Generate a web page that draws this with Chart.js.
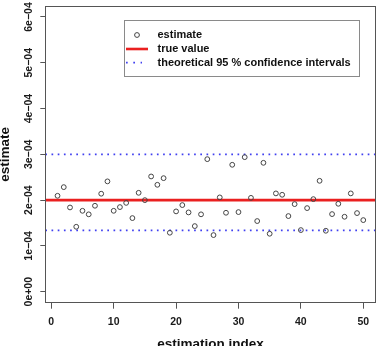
<!DOCTYPE html>
<html>
<head>
<meta charset="utf-8">
<script src="https://cdn.jsdelivr.net/npm/chart.js@4.4.0/dist/chart.umd.min.js"></script>
<style>
    body { margin: 0; background: #fff; }
    #wrap { width: 382px; height: 346px; }
</style>
</head>
<body>
<div id="wrap"><canvas id="chart"></canvas></div>
<script>
"use strict"


const indices = [ 1,  2,  3,  4,  5,  6,  7,  8,  9, 10,
                 11, 12, 13, 14, 15, 16, 17, 18, 19, 20,
                 21, 22, 23, 24, 25, 26, 27, 28, 29, 30,
                 31, 32, 33, 34, 35, 36, 37, 38, 39, 40,
                 41, 42, 43, 44, 45, 46, 47, 48, 49, 50];

const estimates = [2.095e-4, 2.284e-4, 1.840e-4, 1.418e-4, 1.767e-4, 1.690e-4, 1.877e-4, 2.140e-4, 2.410e-4, 1.767e-4,
                   1.848e-4, 1.940e-4, 1.608e-4, 2.160e-4, 2.000e-4, 2.517e-4, 2.335e-4, 2.480e-4, 1.288e-4, 1.754e-4,
                   1.892e-4, 1.732e-4, 1.433e-4, 1.690e-4, 2.895e-4, 1.237e-4, 2.060e-4, 1.724e-4, 2.772e-4, 1.739e-4,
                   2.939e-4, 2.050e-4, 1.543e-4, 2.815e-4, 1.266e-4, 2.147e-4, 2.117e-4, 1.652e-4, 1.913e-4, 1.346e-4,
                   1.826e-4, 2.022e-4, 2.422e-4, 1.331e-4, 1.695e-4, 1.920e-4, 1.637e-4, 2.147e-4, 1.717e-4, 1.564e-4];

const trueValue = 2.0e-4;
const ciLower = 1.34e-4;
const ciUpper = 3.0e-4;

const xTicks = [0, 10, 20, 30, 40, 50];
const yTicks = [0, 1e-4, 2e-4, 3e-4, 4e-4, 5e-4, 6e-4];
const yTickLabels = ['0e+00', '1e\u221204', '2e\u221204', '3e\u221204', '4e\u221204', '5e\u221204', '6e\u221204'];

const xRange = [-0.96, 51.96];
const yRange = [-0.24e-4, 6.24e-4];

const legendLabels = ['estimate', 'true value', 'theoretical 95 % confidence intervals'];


const app = {
    canvasContext: document.getElementById('chart').getContext('2d'),
    font: '"Liberation Sans", Arial, sans-serif'
};


window.onload = () =>
{
    plot();
}


function drawLegend(chart)
{
    const ctx = chart.ctx;
    const sets = chart.data.datasets;
    const box = { left: 124.5, top: 20.5, right: 359.5, bottom: 76.5 };
    const rows = [35, 49, 62.7];
    const symbolLeft = 126;
    const symbolRight = 148;
    const textLeft = 157.5;

    ctx.save();
    ctx.fillStyle = '#fff';
    ctx.fillRect(box.left, box.top, box.right - box.left, box.bottom - box.top);
    ctx.strokeStyle = '#8a8a8a';
    ctx.lineWidth = 1;
    ctx.strokeRect(box.left, box.top, box.right - box.left, box.bottom - box.top);

    // circle
    ctx.beginPath();
    ctx.arc((symbolLeft + symbolRight) / 2, rows[0], sets[0].pointRadius, 0, 2 * Math.PI);
    ctx.strokeStyle = sets[0].borderColor;
    ctx.lineWidth = sets[0].pointBorderWidth;
    ctx.stroke();

    // solid line
    ctx.beginPath();
    ctx.moveTo(symbolLeft, rows[1]);
    ctx.lineTo(symbolRight, rows[1]);
    ctx.strokeStyle = sets[1].borderColor;
    ctx.lineWidth = sets[1].borderWidth;
    ctx.stroke();

    // dotted line, three dots as in the R legend
    ctx.beginPath();
    ctx.setLineDash([sets[2].borderDash[0], 5.6]);
    ctx.moveTo(symbolLeft, rows[2]);
    ctx.lineTo(symbolLeft + 16, rows[2]);
    ctx.strokeStyle = sets[2].borderColor;
    ctx.lineWidth = sets[2].borderWidth;
    ctx.stroke();
    ctx.setLineDash([]);

    ctx.fillStyle = '#111';
    ctx.font = 'bold 11px ' + app.font;
    ctx.textAlign = 'left';
    ctx.textBaseline = 'middle';
    legendLabels.forEach((label, i) => ctx.fillText(label, textLeft, rows[i]));
    ctx.restore();
}


const framePlugin =
{
    id: 'frame',
    afterDraw(chart)
    {
        const ctx = chart.ctx;
        const area = chart.chartArea;
        const yScale = chart.scales.y;

        ctx.save();
        ctx.strokeStyle = '#555';
        ctx.lineWidth = 1;
        const l = Math.round(area.left) + 0.5;
        const t = Math.round(area.top) + 0.5;
        const r = Math.round(area.right) - 0.5;
        const b = Math.round(area.bottom) - 0.5;
        ctx.strokeRect(l, t, r - l, b - t);

        // y tick labels, parallel to the axis
        ctx.fillStyle = '#1a1a1a';
        ctx.font = 'bold 10.5px ' + app.font;
        ctx.textAlign = 'center';
        ctx.textBaseline = 'middle';
        yTicks.forEach((v, i) =>
        {
            ctx.save();
            ctx.translate(28.7, yScale.getPixelForValue(v));
            ctx.rotate(-Math.PI / 2);
            ctx.fillText(yTickLabels[i], 0, 0);
            ctx.restore();
        });
        ctx.restore();

        drawLegend(chart);
    }
};


function plot()
{
    const data =
    {
        datasets: [{
                    label: legendLabels[0],
                    data: indices.map((x, i) => ({ x: x, y: estimates[i] })),
                    borderColor: '#444',
                    backgroundColor: 'rgba(0,0,0,0)',
                    pointRadius: 2.4,
                    pointBorderWidth: 1,
                    pointHoverRadius: 2.4,
                    showLine: false,
                    order: 0
                   },
                   {
                    label: legendLabels[1],
                    data: xRange.map(x => ({ x: x, y: trueValue })),
                    borderColor: '#ea2020',
                    borderWidth: 2.6,
                    pointRadius: 0,
                    showLine: true,
                    order: 1
                   },
                   {
                    label: legendLabels[2],
                    data: xRange.map(x => ({ x: x, y: ciUpper })),
                    borderColor: '#4040f0',
                    borderWidth: 1.7,
                    borderDash: [1.7, 4.5],
                    pointRadius: 0,
                    showLine: true,
                    order: 2
                   },
                   {
                    label: legendLabels[2],
                    data: xRange.map(x => ({ x: x, y: ciLower })),
                    borderColor: '#4040f0',
                    borderWidth: 1.7,
                    borderDash: [1.7, 4.5],
                    pointRadius: 0,
                    showLine: true,
                    order: 2
                   }]
    };

    const config =
    {
        type: 'scatter',
        data: data,
        plugins: [framePlugin],
        options:
        {
            responsive: true,
            maintainAspectRatio: false,
            animation: false,
            layout: { padding: { left: 0, right: 6.5, top: 6, bottom: 0 } },
            plugins:
            {
                legend: { display: false },
                tooltip: { enabled: false }
            },
            scales:
            {
                x:
                {
                    type: 'linear',
                    min: xRange[0],
                    max: xRange[1],
                    afterBuildTicks: s => { s.ticks = xTicks.map(v => ({ value: v })); },
                    afterFit: s => { s.height = 43.3; },
                    border: { display: false },
                    grid: { drawOnChartArea: false, drawTicks: true, tickLength: 6, tickColor: '#555' },
                    ticks:
                    {
                        autoSkip: false,
                        maxRotation: 0,
                        padding: 7.5,
                        color: '#1a1a1a',
                        font: { family: app.font, size: 10.5, weight: 'bold' }
                    },
                    title:
                    {
                        display: true,
                        text: 'estimation index',
                        color: '#111',
                        font: { family: app.font, size: 13.5, weight: 'bold', lineHeight: 1 },
                        padding: { top: 0, bottom: -5.5 }
                    }
                },
                y:
                {
                    type: 'linear',
                    min: yRange[0],
                    max: yRange[1],
                    afterBuildTicks: s => { s.ticks = yTicks.map(v => ({ value: v })); },
                    afterFit: s => { s.width = 45.3; },
                    border: { display: false },
                    grid: { drawOnChartArea: false, drawTicks: true, tickLength: 5, tickColor: '#555' },
                    ticks: { display: false },
                    title:
                    {
                        display: true,
                        text: 'estimate',
                        color: '#111',
                        font: { family: app.font, size: 13.5, weight: 'bold', lineHeight: 1 },
                        padding: { top: -1.75, bottom: 0 }
                    }
                }
            }
        }
    };

    const myChart = new Chart(app.canvasContext, config);
}
</script>
</body>
</html>
